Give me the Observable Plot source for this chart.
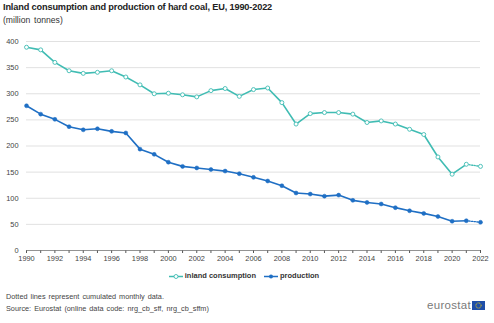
<!DOCTYPE html>
<html>
<head>
<meta charset="utf-8">
<script src="https://cdn.jsdelivr.net/npm/d3@7"></script>
<script src="https://cdn.jsdelivr.net/npm/@observablehq/plot@0.6"></script>
<style>
  html, body { margin: 0; padding: 0; background: #fff; }
  #wrap { position: relative; width: 494px; height: 323px; font-family: "Liberation Sans", Arial, sans-serif; overflow: hidden; }
  #wrap > svg { position: absolute; left: 0; top: 0; }
  .t { position: absolute; white-space: nowrap; }
  #title { left: 3px; top: 2px; font-size: 9.2px; font-weight: bold; color: #222; letter-spacing: -0.15px; }
  #sub { left: 3px; top: 15px; font-size: 8.6px; color: #333; word-spacing: 1.5px; }
  #legend { left: 0; width: 488px; top: 271px; text-align: center; font-size: 7.5px; font-weight: bold; color: #333; }
  #legend span.item { display: inline-block; margin: 0 4px; }
  #legend svg { vertical-align: middle; margin-right: 1px; }
  #note { left: 6px; top: 291px; font-size: 7.3px; color: #444; line-height: 11.5px; word-spacing: 1px; }
  #logo { right: 9px; top: 299px; font-size: 11.5px; color: #7a7a7a; letter-spacing: 0.3px; }
  #logo svg { vertical-align: -1px; margin-left: 1px; }
</style>
</head>
<body>
<div id="wrap">
  <div class="t" id="title">Inland consumption and production of hard coal, EU, 1990-2022</div>
  <div class="t" id="sub">(million tonnes)</div>
  <div class="t" id="legend"></div>
  <div class="t" id="note">Dotted lines represent cumulated monthly data.<br>Source: Eurostat (online data code: nrg_cb_sff, nrg_cb_sffm)</div>
  <div class="t" id="logo">eurostat<svg width="13" height="9" viewBox="0 0 13 9"><rect width="13" height="9" fill="#1f4fa8"/><circle cx="6.5" cy="4.5" r="2.6" fill="none" stroke="#f5d20a" stroke-width="1" stroke-dasharray="0.8 0.6"/></svg></div>
</div>
<script>
const years = d3.range(1990, 2023);
const consumption = [389, 384, 360, 344, 339, 341, 344, 332, 317, 300, 301, 298, 294, 306, 310, 295, 308, 311, 283, 242, 262, 264, 264, 261, 245, 248, 242, 232, 222, 179, 146, 165, 161];
const production = [277, 261, 251, 237, 231, 233, 228, 225, 194, 184, 169, 161, 158, 155, 152, 147, 140, 133, 124, 110, 108, 104, 106, 96, 92, 89, 82, 76, 71, 65, 56, 57, 54];
const seriesNames = ["inland consumption", "production"];
const colors = ["#40bcb3", "#1f6fc4"];
const yTicks = [0, 50, 100, 150, 200, 250, 300, 350, 400];
const xLabelTicks = d3.range(1990, 2023, 2);
const lastMonthlyYear = 2021; // segment from 2021 to 2022 is dotted

const rows = [];
seriesNames.forEach((s, i) => {
  const vals = i === 0 ? consumption : production;
  years.forEach((y, j) => rows.push({series: s, year: y, value: vals[j]}));
});
const solid = rows.filter(d => d.year <= lastMonthlyYear);
const dotted = rows.filter(d => d.year >= lastMonthlyYear);

const chart = Plot.plot({
  width: 494,
  height: 323,
  marginTop: 41,
  marginBottom: 73,
  marginLeft: 26,
  marginRight: 14,
  style: {fontFamily: "'Liberation Sans', Arial, sans-serif", fontSize: "7.4px", background: "transparent"},
  x: {domain: [1990, 2022], label: null},
  y: {domain: [0, 400], label: null},
  color: {domain: seriesNames, range: colors},
  marks: [
    Plot.gridY(yTicks.filter(d => d > 0), {stroke: "#d9d9d9", strokeOpacity: 1, strokeWidth: 0.8}),
    Plot.axisY({ticks: yTicks, tickSize: 0, tickPadding: 8, fill: "#444", label: null}),
    Plot.axisX({ticks: years, tickFormat: d => xLabelTicks.includes(d) ? String(d) : "", tickSize: 3, tickPadding: 2, stroke: "#555", fill: "#444", label: null}),
    Plot.ruleY([0], {stroke: "#777", strokeWidth: 0.8}),
    Plot.line(solid, {x: "year", y: "value", z: "series", stroke: "series", strokeWidth: 1.6}),
    Plot.line(dotted, {x: "year", y: "value", z: "series", stroke: "series", strokeWidth: 1.3, strokeDasharray: "1.3 1.3"}),
    Plot.dot(rows.filter(d => d.series === seriesNames[0]), {x: "year", y: "value", r: 2, fill: "white", stroke: colors[0], strokeWidth: 0.9}),
    Plot.dot(rows.filter(d => d.series === seriesNames[1]), {x: "year", y: "value", r: 2, fill: colors[1], stroke: colors[1], strokeWidth: 0.5})
  ]
});
document.getElementById("wrap").prepend(chart);

// legend
const leg = document.getElementById("legend");
seriesNames.forEach((s, i) => {
  const span = document.createElement("span");
  span.className = "item";
  const marker = i === 0
    ? `<circle cx="7" cy="3.5" r="2" fill="white" stroke="${colors[i]}" stroke-width="0.9"/>`
    : `<circle cx="7" cy="3.5" r="2" fill="${colors[i]}"/>`;
  span.innerHTML = `<svg width="15" height="7"><line x1="0" x2="14" y1="3.5" y2="3.5" stroke="${colors[i]}" stroke-width="1.5"/>${marker}</svg>${s}`;
  leg.appendChild(span);
});
</script>
</body>
</html>
